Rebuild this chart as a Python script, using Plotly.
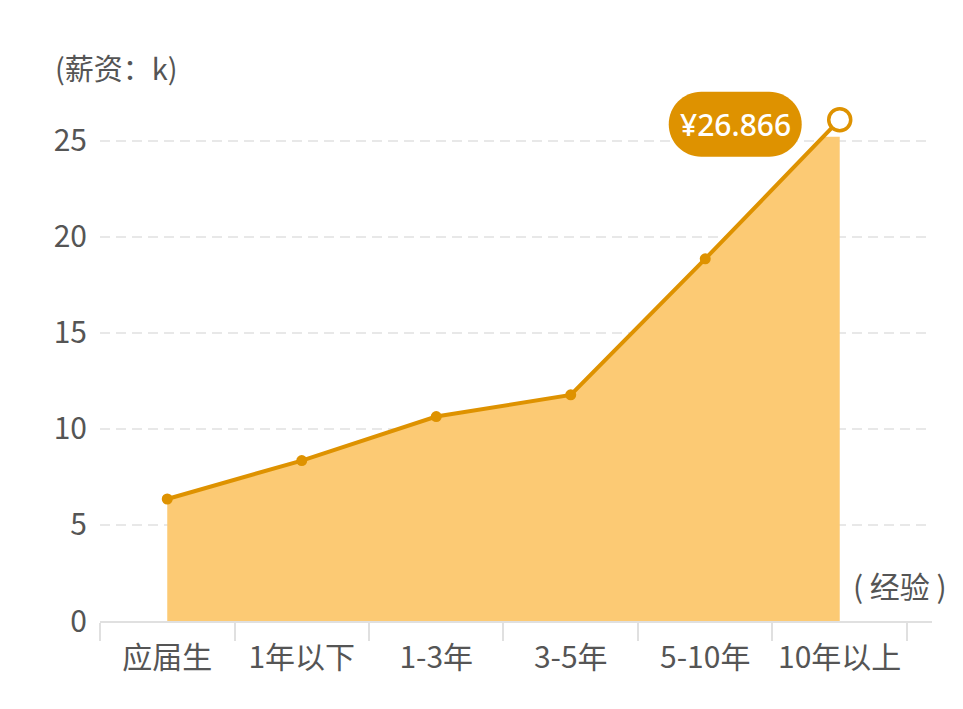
import plotly.graph_objects as go

# experience buckets and average salary (k)
categories = ['应届生', '1年以下', '1-3年', '3-5年', '5-10年', '10年以上']
salary_k = [6.35, 8.35, 10.64, 11.77, 18.85, 26.09]
peak_label_value = 26.866
ytick_vals = [0, 5, 10, 15, 20, 25]

LINE_COLOR = '#de9200'
FILL_COLOR = '#fcca74'
TEXT_COLOR = '#555555'
AXIS_COLOR = '#e0e0e0'
FONT = 'Noto Sans CJK SC, Noto Sans, sans-serif'

Y_TOP = 28      # full range of the line subplot
FILL_TOP = 25.2  # the area is clipped a bit lower than the line
X_RANGE = [-0.5, 5.686]

fig = go.Figure()

# area, clipped by its own (shorter) subplot
fig.add_trace(go.Scatter(
    x=categories, y=salary_k,
    mode='lines', fill='tozeroy', fillcolor=FILL_COLOR,
    line=dict(width=0, color=FILL_COLOR),
    xaxis='x', yaxis='y', hoverinfo='skip'
))

# line + markers, last point is the hollow highlighted one
n = len(salary_k)
fig.add_trace(go.Scatter(
    x=categories, y=salary_k,
    mode='lines+markers',
    line=dict(color=LINE_COLOR, width=4),
    marker=dict(
        size=[11] * (n - 1) + [22],
        color=[LINE_COLOR] * (n - 1) + ['white'],
        line=dict(color=LINE_COLOR, width=[0] * (n - 1) + [3.5]),
        opacity=1
    ),
    xaxis='x2', yaxis='y2', cliponaxis=False
))

# rounded label bubble next to the peak (pixel path relative to the point)
r = 32.5
k = 0.5523 * r
cy = -4.5
xl, xr = -171 + r, -38 - r
top, bot = cy + r, cy - r
bubble = (f"M{xl},{top} L{xr},{top} "
          f"C{xr + k},{top} {xr + r},{cy + k} {xr + r},{cy} "
          f"C{xr + r},{cy - k} {xr + k},{bot} {xr},{bot} "
          f"L{xl},{bot} "
          f"C{xl - k},{bot} {xl - r},{cy - k} {xl - r},{cy} "
          f"C{xl - r},{cy + k} {xl - k},{top} {xl},{top} Z")
fig.add_shape(
    type='path', path=bubble,
    xref='x2', yref='y2', xsizemode='pixel', ysizemode='pixel',
    xanchor=categories[-1], yanchor=salary_k[-1],
    fillcolor=LINE_COLOR, line=dict(width=0)
)
fig.add_annotation(
    x=categories[-1], y=salary_k[-1], xref='x2', yref='y2',
    xshift=-104.5, yshift=cy, showarrow=False,
    text=f"¥{peak_label_value:.3f}",
    font=dict(family='Noto Sans, sans-serif', size=30, color='white', weight=500)
)

# axis captions
fig.add_annotation(
    x=-0.0565, y=1.0305, xref='paper', yref='paper',
    xanchor='left', yanchor='middle', showarrow=False,
    text='(薪资：k)', font=dict(family=FONT, size=29, color=TEXT_COLOR)
)
fig.add_annotation(
    x=0.962, y=0.067, xref='paper', yref='paper',
    xanchor='center', yanchor='middle', showarrow=False,
    text='( 经验 )', font=dict(family=FONT, size=30, color=TEXT_COLOR)
)

# page body has an 8px margin, so the figure is 8px smaller on each axis
fig.update_layout(
    width=955, height=701,
    margin=dict(l=92, r=31, t=75.4, b=88),
    paper_bgcolor='white',
    plot_bgcolor='rgba(0,0,0,0)',
    showlegend=False,
    font=dict(family=FONT, color=TEXT_COLOR),
    xaxis=dict(
        type='category', categoryorder='array', categoryarray=categories,
        range=X_RANGE, domain=[0, 1], anchor='y',
        tickson='boundaries', ticks='outside', ticklen=18, tickwidth=2,
        tickcolor=AXIS_COLOR, showline=True, linecolor=AXIS_COLOR, linewidth=2,
        showgrid=False, ticklabelstandoff=9,
        tickfont=dict(size=30, color=TEXT_COLOR)
    ),
    yaxis=dict(
        domain=[0, FILL_TOP / Y_TOP], range=[0, FILL_TOP], anchor='x',
        tickvals=ytick_vals, showgrid=True, gridcolor='#e8e8e8', gridwidth=2,
        griddash='10px,6px', zeroline=False, showline=False, ticks='',
        ticklabelstandoff=12, tickfont=dict(size=30, color=TEXT_COLOR)
    ),
    xaxis2=dict(
        type='category', categoryorder='array', categoryarray=categories,
        range=X_RANGE, domain=[0, 1], anchor='y2', visible=False
    ),
    yaxis2=dict(domain=[0, 1], range=[0, Y_TOP], anchor='x2', visible=False),
)

fig.write_html("out.html")
